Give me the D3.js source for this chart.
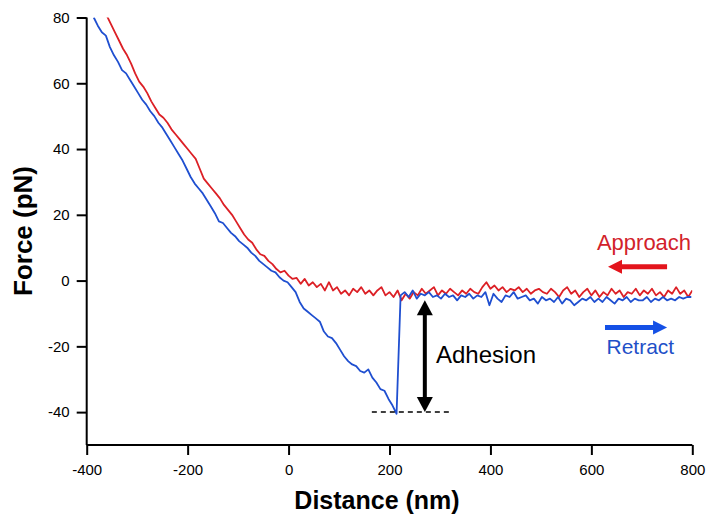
<!DOCTYPE html>
<html>
<head>
<meta charset="utf-8">
<script src="https://d3js.org/d3.v7.min.js"></script>
<style>
    body { margin: 0; background: #fff; }
    svg { display: block; font-family: Arial, "Liberation Sans", sans-serif; }
</style>
</head>
<body>
<div id="chart"></div>
<script>
/*
    Data (distance in nm, force in pN)
*/
var approachStart = -360, approachStep = 8;
var approachForce = [
    80.5, 78, 75.5, 73, 70.5, 68.5, 66, 63, 60.5, 59,
    57, 54.5, 52.5, 50.5, 49.5, 48, 46, 44.5, 43, 41.5,
    40, 38.5, 37, 34, 31, 29.5, 28, 26.5, 25, 23,
    21.5, 20, 18, 16, 14, 12.5, 11.5, 9.5, 8, 7.5,
    6, 5, 3.5, 2.5, 3, 1.5, 0.5, 0.8, -1, 0.5,
    -1.5, -0.5, -2,
    -1, -3, -0.5, -3, -2, -4, -3, -4.5, -2.5, -3.5,
    -2, -4, -3, -4.5, -3, -2, -4.5, -3.5, -5, -3,
    -6, -4, -5.5, -3.5, -4.5, -2.5, -4, -3, -2, -4.5,
    -3, -4, -2.5, -3.5, -4.5, -3, -4, -2.5, -3.5, -4,
    -2, -0.5, -2.5, -1.5, -3, -2, -3.5, -2.5, -3, -2,
    -3.5, -2.5, -4, -3, -2.5, -3.5, -4, -2.5, -3.5, -5,
    -3, -2, -4, -3, -5, -3.5, -2.5, -4.5, -3, -5,
    -3.5, -4.5, -2.5, -4, -3, -5, -3.5, -4, -2.5, -4.5,
    -3, -4, -2.5, -4.5, -3.5, -5, -3, -4, -2, -4,
    -3, -5, -3
];
var retractStart = -386, retractStep = 8;
var retractForce = [
    80, 77.5, 75.5, 74.5, 71, 68.5, 66.5, 64, 63, 61,
    59, 57, 55, 53.5, 51.5, 50, 48, 46.5, 44.5, 42.5,
    40.5, 38.5, 36.5, 34, 31.5, 29.5, 28, 26.5, 24.5, 22.5,
    20.5, 18, 17.5, 16, 14.5, 13.5, 12, 11, 10, 8.5,
    7.5, 6, 5, 4, 3, 2.5, 1, 0, -0.5, -2,
    -3.5, -6.5, -8.5, -9.5, -10.5, -11.5, -12.5, -15.5, -17, -17.5,
    -19, -21, -23, -24.5, -25.5, -26, -27.5, -28, -27, -29.5,
    -31, -33, -33.5, -36, -38, -40.5,
    -4.5, -3.5, -5, -3, -5.5, -4, -4.5, -3.5, -5, -4.5,
    -5.5, -4, -5, -4.5, -6, -4.5, -5, -4, -5.5, -4.5,
    -5, -3.5, -7.5, -4, -5.5, -6.5, -4.5, -5, -3.5, -5.5,
    -5, -4.5, -6, -5.5, -7, -5, -6, -5.5, -6.5, -5,
    -7, -5.5, -6, -7.5, -6.5, -5.5, -6, -5, -6.5, -5.5,
    -6.5, -5, -6, -7, -5.5, -6, -5, -6.5, -5.5, -6,
    -6, -5, -6.5, -5.5, -6, -5, -6, -5.5, -6, -5,
    -5.5, -5, -5
];
/*
    Axis ticks
*/
var xTicks = [-400, -200, 0, 200, 400, 600, 800];
var yTicks = [-40, -20, 0, 20, 40, 60, 80];
/*
    Adhesion annotation: arrow from baseline to the minimum
*/
var adhesionX = 270, adhesionTop = -6, adhesionBottom = -40;
var dashFrom = 165, dashTo = 323;

var realW = 706, realH = 514,
    red = "#dc2026", blue = "#1f4fd0";

var svg = d3.select("#chart").append("svg")
    .attr("width", realW)
    .attr("height", realH);

var xScale = d3.scaleLinear().domain([-400, 800]).range([86.7, 692.3]);
var yScale = d3.scaleLinear().domain([-50, 80]).range([445, 17.5]);

function toPoints(start, step, values) {
    return values.map(function (v, i) { return [start + i * step, v]; });
}

/*
    Clip the traces to the plot box
*/
svg.append("clipPath").attr("id", "plotClip")
    .append("rect")
    .attr("x", xScale(-400)).attr("y", yScale(80))
    .attr("width", xScale(800) - xScale(-400))
    .attr("height", yScale(-50) - yScale(80));

var line = d3.line()
    .x(function (d) { return xScale(d[0]); })
    .y(function (d) { return yScale(d[1]); });

var traces = svg.append("g").attr("clip-path", "url(#plotClip)");
traces.append("path")
    .datum(toPoints(approachStart, approachStep, approachForce))
    .attr("d", line)
    .attr("fill", "none")
    .attr("stroke", red)
    .attr("stroke-width", 1.8)
    .attr("stroke-linejoin", "round");
traces.append("path")
    .datum(toPoints(retractStart, retractStep, retractForce))
    .attr("d", line)
    .attr("fill", "none")
    .attr("stroke", blue)
    .attr("stroke-width", 1.8)
    .attr("stroke-linejoin", "round");

/*
    Axes (plain hyphen for negatives, as in the figure)
*/
var plain = function (d) { return String(d); };
var xAxis = d3.axisBottom(xScale).tickValues(xTicks).tickFormat(plain)
    .tickSize(10).tickPadding(9).tickSizeOuter(0);
var yAxis = d3.axisLeft(yScale).tickValues(yTicks).tickFormat(plain)
    .tickSize(10).tickPadding(7).tickSizeOuter(0);

var gx = svg.append("g")
    .attr("transform", "translate(0," + yScale(-50) + ")")
    .call(xAxis);
var gy = svg.append("g")
    .attr("transform", "translate(" + xScale(-400) + ",0)")
    .call(yAxis);

gy.select(".domain").attr("d", "M0," + yScale(80) + "V" + yScale(-50));
gx.select(".domain").attr("d", "M" + xScale(-400) + ",0H" + xScale(800));

[gx, gy].forEach(function (g) {
    g.select(".domain").attr("stroke", "#000").attr("stroke-width", 2);
    g.selectAll(".tick line").attr("stroke", "#000").attr("stroke-width", 2);
    g.selectAll(".tick text")
        .attr("fill", "#000")
        .style("font-size", "15px")
        .style("font-family", "Arial, 'Liberation Sans', sans-serif");
});

svg.append("text")
    .attr("transform", "translate(32,231) rotate(-90)")
    .attr("text-anchor", "middle")
    .style("font-size", "26px")
    .style("font-weight", "bold")
    .text("Force (pN)");

svg.append("text")
    .attr("x", 377)
    .attr("y", 509)
    .attr("text-anchor", "middle")
    .style("font-size", "25px")
    .style("font-weight", "bold")
    .text("Distance (nm)");

/*
    Adhesion annotation
*/
svg.append("line")
    .attr("x1", xScale(dashFrom)).attr("x2", xScale(dashTo))
    .attr("y1", yScale(adhesionBottom)).attr("y2", yScale(adhesionBottom))
    .attr("stroke", "#000")
    .attr("stroke-width", 1.5)
    .attr("stroke-dasharray", "5,4");

function verticalDoubleArrow(x, yTop, yBottom) {
    var head = 15, half = 8;
    svg.append("line")
        .attr("x1", x).attr("x2", x)
        .attr("y1", yTop + head - 1).attr("y2", yBottom - head + 1)
        .attr("stroke", "#000").attr("stroke-width", 4);
    svg.append("polygon")
        .attr("points", [[x, yTop], [x - half, yTop + head], [x + half, yTop + head]].join(" "))
        .attr("fill", "#000");
    svg.append("polygon")
        .attr("points", [[x, yBottom], [x - half, yBottom - head], [x + half, yBottom - head]].join(" "))
        .attr("fill", "#000");
}
verticalDoubleArrow(xScale(adhesionX), yScale(adhesionTop), yScale(adhesionBottom));

svg.append("text")
    .attr("x", xScale(292))
    .attr("y", yScale(-25))
    .style("font-size", "24px")
    .attr("fill", "#000")
    .text("Adhesion");

/*
    Direction legend: arrows with labels
*/
function horizontalArrow(xTail, xTip, y, color) {
    var head = 14, half = 7, dir = xTip > xTail ? 1 : -1;
    svg.append("line")
        .attr("x1", xTail).attr("x2", xTip - dir * (head - 1))
        .attr("y1", y).attr("y2", y)
        .attr("stroke", color).attr("stroke-width", 5);
    svg.append("polygon")
        .attr("points", [[xTip, y], [xTip - dir * head, y - half], [xTip - dir * head, y + half]].join(" "))
        .attr("fill", color);
}
horizontalArrow(xScale(750), xScale(633), yScale(4.2), "#e3141c");
horizontalArrow(xScale(627), xScale(750), yScale(-14.3), "#1450e6");

svg.append("text")
    .attr("x", xScale(611))
    .attr("y", yScale(9.3))
    .style("font-size", "22px")
    .attr("fill", "#d2222a")
    .text("Approach");

svg.append("text")
    .attr("x", xScale(630))
    .attr("y", yScale(-22.4))
    .style("font-size", "21px")
    .attr("fill", "#1e50c8")
    .text("Retract");
</script>
</body>
</html>
